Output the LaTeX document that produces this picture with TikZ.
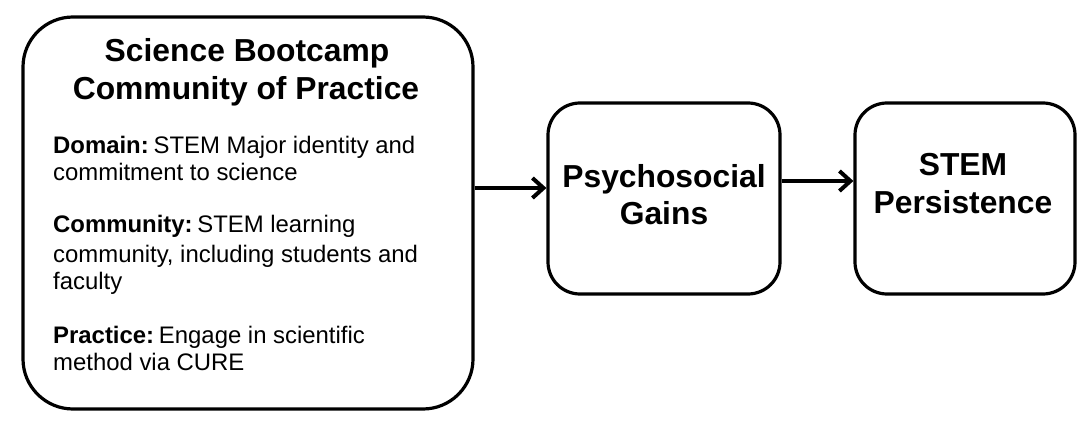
\documentclass[tikz,border=0pt]{standalone}
\usepackage{fontspec}
\setmainfont{Liberation Sans}
\usetikzlibrary{arrows.meta}
\begin{document}
\begin{tikzpicture}[x=1pt,y=-1pt,
  box/.style={draw=black, line width=3.2pt, fill=white, inner sep=0pt},
  arr/.style={line width=4pt, -{Straight Barb[length=11pt,width=20pt,line width=4pt]}},
  ttl/.style={font=\fontsize{31.8}{38}\selectfont\bfseries, inner sep=0pt, anchor=base},
  body/.style={font=\fontsize{23.9}{28}\selectfont, inner sep=0pt, anchor=base west}]
\useasboundingbox (0,0) rectangle (1085,425);
\node[box, rounded corners=50pt, minimum width=450pt, minimum height=392pt] (big) at (248,213) {};
\node[box, rounded corners=32pt, minimum width=232pt, minimum height=191pt] (mid) at (664,198.5) {};
\node[box, rounded corners=32pt, minimum width=220pt, minimum height=191pt] (res) at (965,198.5) {};
% title of the community box
\node[ttl] (t1) at (247,62) {Science Bootcamp};
\node[ttl] (t2) at (246,100) {Community of Practice};
% body lines
\node[body] (d1) at (53,154) {\textbf{Domain:}\hspace{0.2em}STEM Major identity and};
\node[body] (d2) at (53,181) {commitment to science};
\node[body] (c1) at (53,233) {\textbf{Community:}\hspace{0.2em}STEM learning};
\node[body] (c2) at (53,262) {community, including students and};
\node[body] (c3) at (53,289) {faculty};
\node[body] (p1) at (53,343) {\textbf{Practice:}\hspace{0.2em}Engage in scientific};
\node[body] (p2) at (53,370) {method via CURE};
% middle box text
\node[ttl] (m1) at (664,188) {Psychosocial};
\node[ttl] (m2) at (664,225) {Gains};
% right box text
\node[ttl] (r1) at (963,176) {STEM};
\node[ttl] (r2) at (963,214) {Persistence};
% connectors
\draw[arr] (big.east |- 0,188) -- (mid.west |- 0,188);
\draw[arr] (mid.east |- 0,181) -- (res.west |- 0,181);
\end{tikzpicture}
\end{document}
